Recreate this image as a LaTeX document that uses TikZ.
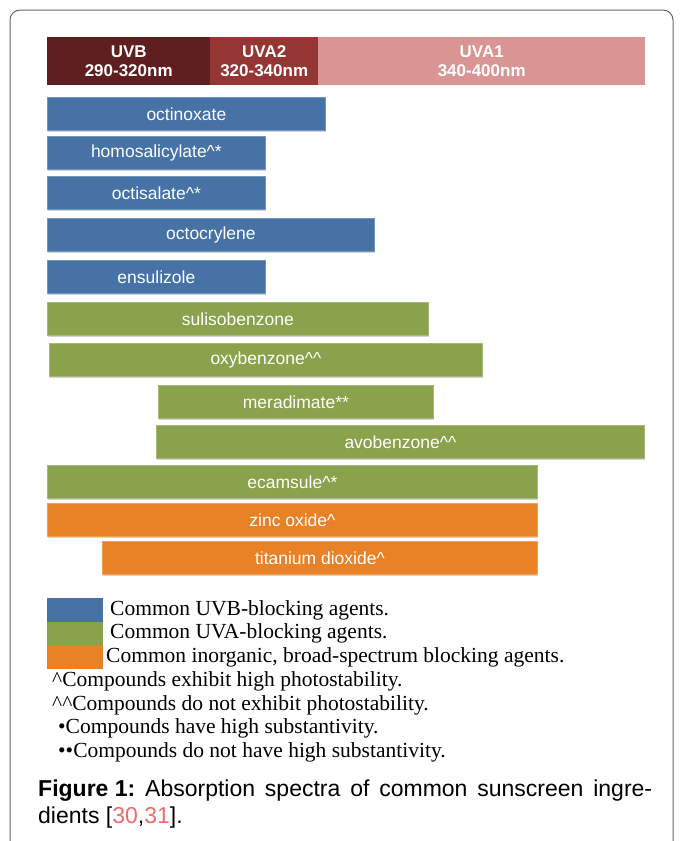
\documentclass[tikz,border=0pt]{standalone}
\usepackage{fontspec}
\setmainfont{Liberation Serif}
\newfontfamily\arialfont{Liberation Sans}
\usetikzlibrary{shadows}
\definecolor{uvbred}{HTML}{5F1E1F}
\definecolor{uvatwored}{HTML}{953634}
\definecolor{uvaonered}{HTML}{D99594}
\definecolor{barblue}{HTML}{4672A6}
\definecolor{bargreen}{HTML}{8AA24C}
\definecolor{barorange}{HTML}{E98226}
\definecolor{citered}{HTML}{F06B6B}
\newcommand{\cflex}{\textasciicircum}

\begin{document}
\begin{tikzpicture}[x=1pt, y=-1pt,
  band/.style={anchor=north west, inner sep=0pt, text=white, align=center,
    font=\arialfont\fontsize{17}{19}\selectfont\bfseries},
  bar/.style={anchor=north west, inner sep=0pt, text=white, fill=#1, draw=#1!75!white,
    line width=0.8pt, font=\arialfont\fontsize{17.5}{19}\selectfont,
    drop shadow={shadow xshift=0.6pt, shadow yshift=-1.6pt, opacity=0.35}},
  key/.style={anchor=west, inner sep=0pt, font=\fontsize{21.5}{23}\selectfont}]
\useasboundingbox (0,0) rectangle (680,841);
\draw[gray!80!black, line width=1pt, rounded corners=10pt] (10,841)--(10,10)--(673,10)--(673,841);

% wavelength bands
\foreach \n/\x/\w/\col/\lab in {uvb/47/163/uvbred/{UVB\\290-320nm},
  uvatwo/210/108/uvatwored/{UVA2\\320-340nm}, uvaone/318/327/uvaonered/{UVA1\\340-400nm}}
{
    \node[band, fill=\col, minimum width=\w pt, minimum height=48pt] (\n) at (\x,37) {\lab};
}

% agents
\foreach \n/\x/\y/\w/\col/\lab in {
  octinoxate/47/97/278/barblue/octinoxate,
  homosalicylate/47/136/218/barblue/homosalicylate\cflex*,
  octisalate/47/176/218/barblue/octisalate\cflex*,
  octocrylene/47/218/327/barblue/octocrylene,
  ensulizole/47/260/218/barblue/ensulizole,
  sulisobenzone/47/302/381/bargreen/sulisobenzone,
  oxybenzone/49/343/433/bargreen/oxybenzone\cflex\cflex,
  meradimate/158/385/275/bargreen/meradimate**,
  avobenzone/156/425/488/bargreen/avobenzone\cflex\cflex,
  ecamsule/47/465/490/bargreen/ecamsule\cflex*,
  zincoxide/47/503/490/barorange/zinc oxide\cflex,
  titanium/102/541/435/barorange/titanium dioxide\cflex}
{
    \node[bar=\col, minimum width=\w pt, minimum height=33pt] (\n) at (\x,\y) {\lab};
}

% legend
\foreach \n/\y/\col in {keyblue/598/barblue, keygreen/622/bargreen, keyorange/645/barorange}
{
    \node[fill=\col, inner sep=0pt, minimum width=56pt, minimum height=23.5pt, anchor=north west] (\n) at (47,\y) {};
}
\node[key] (uvbtext) at (110,610) {Common UVB-blocking agents.};
\node[key] (uvatext) at (110,633) {Common UVA-blocking agents.};
\node[key] (inorgtext) at (106,657) {Common inorganic, broad-spectrum blocking agents.};
\node[key] (stable) at (52,681) {\cflex Compounds exhibit high photostability.};
\node[key] (unstable) at (52,705) {\cflex\cflex Compounds do not exhibit photostability.};
\node[key] (subst) at (58,728) {\textbullet Compounds have high substantivity.};
\node[key] (nosubst) at (58,752) {\textbullet\textbullet Compounds do not have high substantivity.};

% caption
\node[anchor=north west, inner sep=0pt, text width=614pt, align=justify,
  font=\arialfont\fontsize{23}{27}\selectfont] (caption) at (38,780)
  {\textbf{\mbox{Figure 1:}} Absorption spectra of common sunscreen ingre-\linebreak
   dients [\textcolor{citered}{30},\textcolor{citered}{31}].};
\end{tikzpicture}
\end{document}
